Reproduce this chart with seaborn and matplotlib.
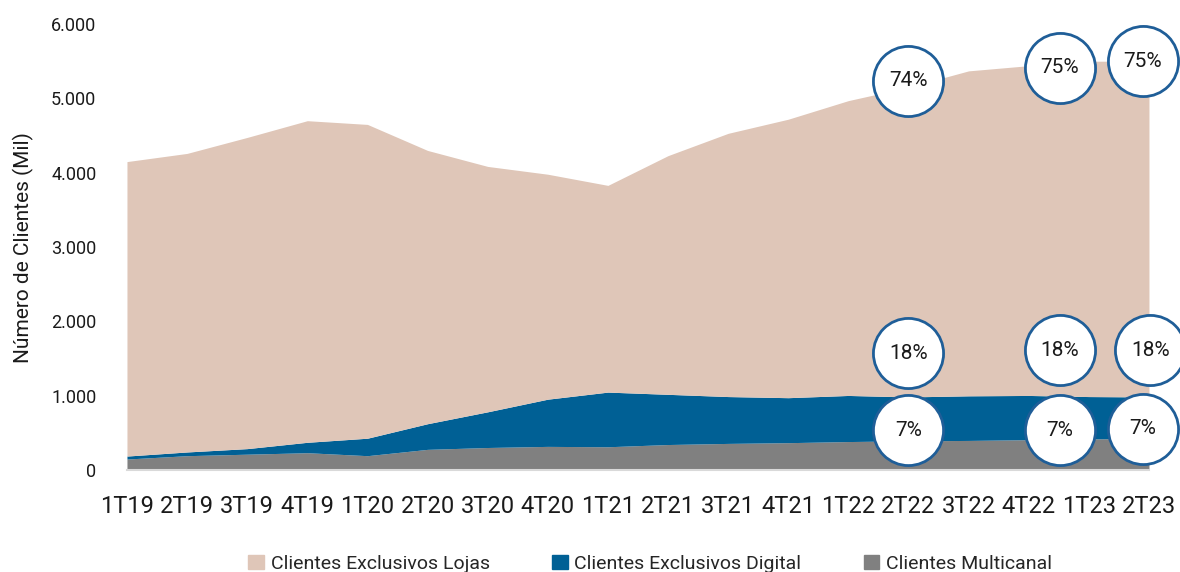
import numpy as np
import pandas as pd
import matplotlib
matplotlib.use("Agg")
import matplotlib.pyplot as plt
import seaborn as sns
from matplotlib.patches import Patch

quarters = ['1T19', '2T19', '3T19', '4T19', '1T20', '2T20', '3T20', '4T20', '1T21',
            '2T21', '3T21', '4T21', '1T22', '2T22', '3T22', '4T22', '1T23', '2T23']

# valores em mil clientes
multicanal = [150, 195, 215, 235, 195, 280, 305, 320, 315,
              345, 360, 370, 385, 395, 400, 410, 420, 430]
digital = [40, 50, 75, 140, 235, 345, 480, 635, 735,
           675, 630, 605, 620, 590, 600, 595, 570, 555]
lojas = [3960, 4015, 4185, 4325, 4220, 3675, 3300, 3025, 2780,
         3210, 3540, 3745, 3965, 4165, 4370, 4435, 4510, 4515]

# rotulos percentuais (posicao em indice de trimestre, valor no eixo y)
pct_labels = ['74%', '18%', '7%', '75%', '18%', '7%', '75%', '18%', '7%']
pct_x = [13.0, 13.0, 13.0, 15.52, 15.52, 15.52, 16.9, 17.02, 16.9]
pct_y = [5240, 1570, 540, 5415, 1610, 540, 5500, 1610, 555]

df = pd.DataFrame({'quarter': quarters, 'Clientes Multicanal': multicanal,
                   'Clientes Exclusivos Digital': digital,
                   'Clientes Exclusivos Lojas': lojas})

sns.set_theme(style="white")
plt.rcParams['font.family'] = ['Roboto', 'DejaVu Sans']

c_lojas = '#dfc6b8'
c_digital = '#006095'
c_multi = '#808080'
c_ring = '#1f5e98'

fig, ax = plt.subplots(figsize=(11.8, 5.72), dpi=100)
fig.subplots_adjust(left=0.1076, right=0.9737, bottom=0.178, top=0.958)

x = np.arange(len(quarters))
ax.stackplot(x, df['Clientes Multicanal'], df['Clientes Exclusivos Digital'],
             df['Clientes Exclusivos Lojas'], colors=[c_multi, c_digital, c_lojas],
             linewidth=0)

ax.set_xlim(0, len(quarters) - 1)
ax.set_ylim(0, 6000)
ax.set_xticks(x)
ax.set_xticklabels(quarters, fontsize=17, color='#1a1a1a')
yt = np.arange(0, 6001, 1000)
ax.set_yticks(yt)
ax.set_yticklabels([f'{v:,}'.replace(',', '.') for v in yt], fontsize=13, color='#1a1a1a')
ax.tick_params(axis='x', length=8, width=1.2, color='#d9d9d9', direction='out', pad=10)
ax.tick_params(axis='y', length=0, pad=22)
ax.set_ylabel('Número de Clientes (Mil)', fontsize=15, color='#1a1a1a', labelpad=12)

sns.despine(ax=ax, left=True)
ax.spines['bottom'].set_color('#d9d9d9')
ax.spines['bottom'].set_linewidth(1.5)
ax.grid(False)

# circulos com percentuais
ax.scatter(pct_x, pct_y, s=2550, facecolor='white', edgecolor=c_ring,
           linewidth=2, zorder=5, clip_on=False)
for lab, px, py in zip(pct_labels, pct_x, pct_y):
    ax.text(px, py, lab, ha='center', va='center', fontsize=15,
            color='#1a1a1a', zorder=6)

handles = [Patch(color=c_lojas, label='Clientes Exclusivos Lojas'),
           Patch(color=c_digital, label='Clientes Exclusivos Digital'),
           Patch(color=c_multi, label='Clientes Multicanal')]
fig.legend(handles=handles, loc='lower center', bbox_to_anchor=(0.551, -0.032),
           ncol=3, frameon=False, fontsize=14, handlelength=0.8, handleheight=0.8,
           handletextpad=0.35, columnspacing=3.2)

fig.savefig('out.png', dpi=100)
